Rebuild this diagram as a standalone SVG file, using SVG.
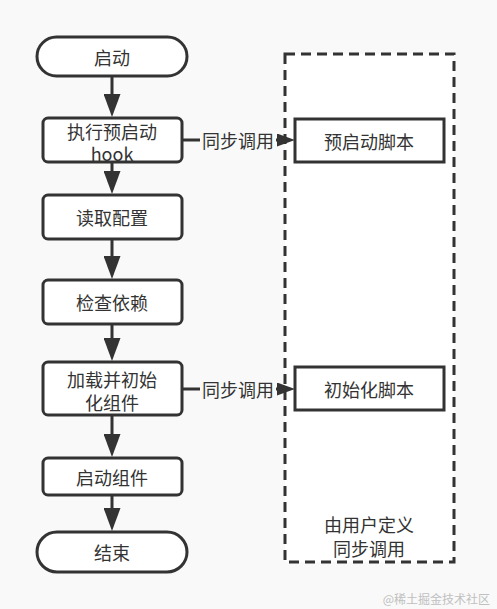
<svg xmlns="http://www.w3.org/2000/svg" width="497" height="609" viewBox="0 0 497 609">
<defs>
<style>
.n{fill:#fff;stroke:#333;stroke-width:3}
.t{font-family:"Noto Sans CJK SC","Liberation Sans",sans-serif;font-size:18px;fill:#333;text-anchor:middle;dominant-baseline:central}
.c{stroke:#333;stroke-width:3;fill:none}
.lb{fill:#f9f9f9}
</style>
<marker id="ah" viewBox="0 0 23 17" refX="8" refY="8.5" markerWidth="23" markerHeight="17" markerUnits="userSpaceOnUse" orient="auto">
<path d="M0,0 L23,8.5 L0,17 z" fill="#333"/>
</marker>
<marker id="ah2" viewBox="0 0 18 13" refX="6" refY="6.5" markerWidth="18" markerHeight="13" markerUnits="userSpaceOnUse" orient="auto">
<path d="M0,0 L18,6.5 L0,13 z" fill="#333"/>
</marker>
</defs>
<rect x="0" y="0" width="497" height="609" fill="#f9f9f9"/>
<g id="user-defined">
<rect x="285" y="54" width="169" height="508" fill="#fff" stroke="#333" stroke-width="3" stroke-dasharray="10,6"/>
<text class="t" x="369" y="524">由用户定义</text>
<text class="t" x="369" y="548">同步调用</text>
</g>
<g id="connectors">
<line class="c" x1="112" y1="76" x2="112" y2="102" marker-end="url(#ah)"/>
<line class="c" x1="112" y1="162" x2="112" y2="179" marker-end="url(#ah)"/>
<line class="c" x1="112" y1="239" x2="112" y2="264" marker-end="url(#ah)"/>
<line class="c" x1="112" y1="324" x2="112" y2="346" marker-end="url(#ah)"/>
<line class="c" x1="112" y1="415" x2="112" y2="442" marker-end="url(#ah)"/>
<line class="c" x1="112" y1="495" x2="112" y2="516" marker-end="url(#ah)"/>
<line class="c" x1="182" y1="140" x2="283" y2="140" marker-end="url(#ah2)"/>
<line class="c" x1="182" y1="389" x2="283" y2="389" marker-end="url(#ah2)"/>
<rect class="lb" x="200" y="129" width="76" height="22"/>
<text class="t" x="238" y="140">同步调用</text>
<rect class="lb" x="200" y="378" width="76" height="22"/>
<text class="t" x="238" y="389">同步调用</text>
</g>
<g id="start">
<rect class="n" x="37" y="37" width="150" height="39" rx="19.5"/>
<text class="t" x="112" y="57">启动</text>
</g>
<g id="pre-hook">
<rect class="n" x="43" y="118" width="139" height="44" rx="5"/>
<text class="t" x="112" y="131">执行预启动</text>
<text class="t" x="112" y="153">hook</text>
</g>
<g id="read-config">
<rect class="n" x="43" y="195" width="139" height="44" rx="5"/>
<text class="t" x="112" y="217">读取配置</text>
</g>
<g id="check-deps">
<rect class="n" x="43" y="280" width="139" height="44" rx="5"/>
<text class="t" x="112" y="302">检查依赖</text>
</g>
<g id="load-init">
<rect class="n" x="43" y="362" width="139" height="53" rx="5"/>
<text class="t" x="112" y="379">加载并初始</text>
<text class="t" x="112" y="402">化组件</text>
</g>
<g id="start-comp">
<rect class="n" x="43" y="458" width="139" height="37" rx="5"/>
<text class="t" x="112" y="477">启动组件</text>
</g>
<g id="end">
<rect class="n" x="37" y="532" width="150" height="40" rx="20"/>
<text class="t" x="112" y="552">结束</text>
</g>
<g id="pre-script">
<rect class="n" x="295" y="119" width="149" height="43" rx="0"/>
<text class="t" x="369" y="141">预启动脚本</text>
</g>
<g id="init-script">
<rect class="n" x="295" y="367" width="149" height="43" rx="0"/>
<text class="t" x="369" y="389">初始化脚本</text>
</g>
<text x="490" y="598" font-family="Noto Sans CJK SC,Liberation Sans,sans-serif" font-size="12" fill="#c0c0c0" text-anchor="end" dominant-baseline="central">@稀土掘金技术社区</text>
</svg>
